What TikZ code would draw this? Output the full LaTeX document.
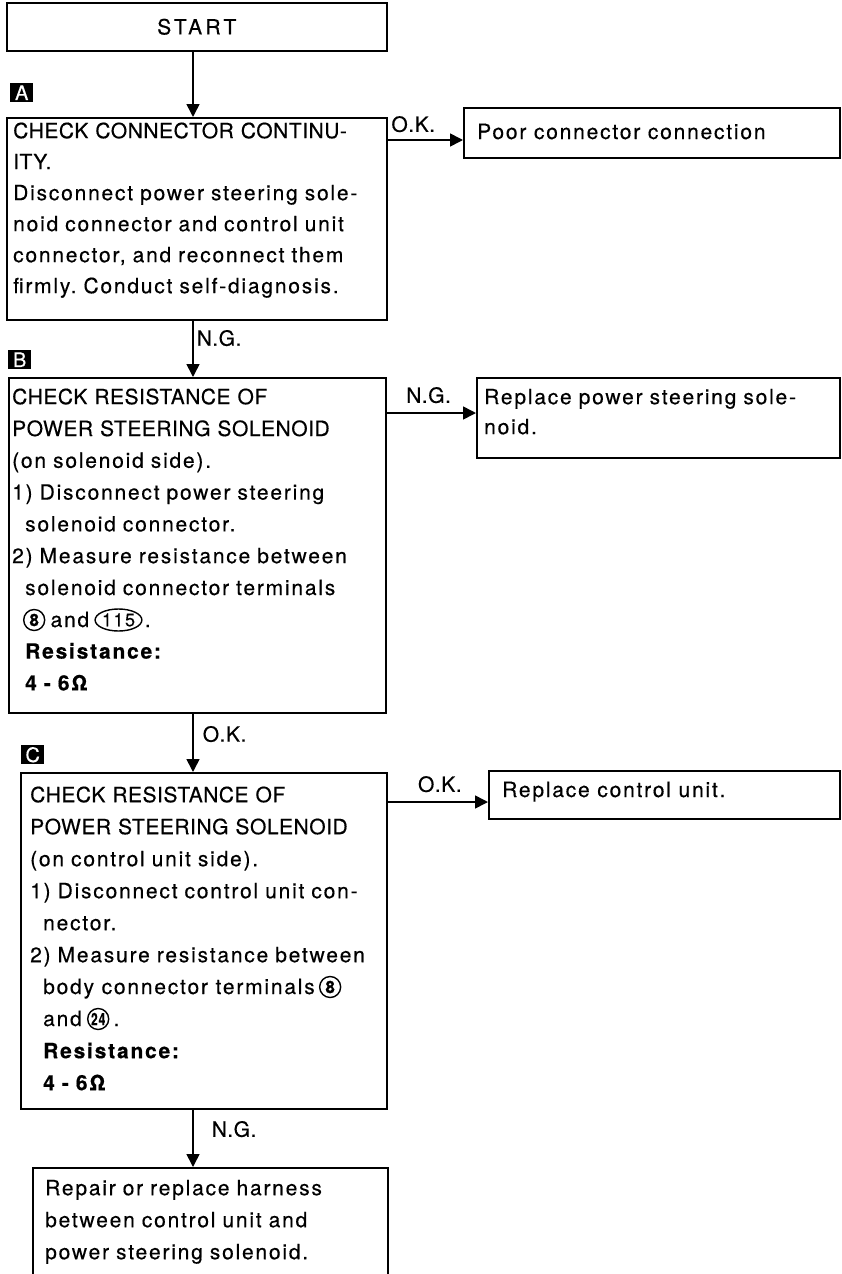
\documentclass[tikz,border=0pt]{standalone}
\usepackage{fontspec}
\setmainfont{TeX Gyre Heros}[LetterSpace=8.5,FakeBold=0.4]
\usetikzlibrary{arrows.meta,shapes.geometric}
\newcommand\firstln{\rule{0pt}{16pt}}
\newcommand\capsln[1]{{\addfontfeature{LetterSpace=2.5}#1}}
\frenchspacing
\begin{document}
\frenchspacing
\begin{tikzpicture}[x=1pt,y=-1pt,
  box/.style={draw,line width=1.6pt,rectangle,inner sep=0pt,anchor=north west},
  txt/.style={inner sep=0pt,anchor=north west,align=left,text width=400pt,font=\fontsize{21}{#1}\selectfont},
  lt/.style={inner sep=0pt,font=\fontsize{21}{24}\selectfont},
  tag/.style={fill=black,text=white,inner sep=0pt,minimum width=23pt,minimum height=19pt,anchor=north west,font=\fontsize{20}{20}\selectfont},
  arr/.style={line width=1.6pt,-{Triangle[length=13pt,width=13pt]}},
  cnum/.style={draw,circle,line width=1.4pt,inner sep=0pt,minimum size=21pt,font=\bfseries\fontsize{17}{17}\selectfont},
  enum/.style={draw,ellipse,line width=1.4pt,inner sep=0pt,minimum width=44pt,minimum height=22pt,font=\fontsize{18}{18}\selectfont}
]
\useasboundingbox (0,0) rectangle (841,1274);
\coordinate (ax) at (193,0);
% START
\node[box,minimum width=380pt,minimum height=48pt,font=\fontsize{21}{24}\selectfont\addfontfeature{LetterSpace=16}] (start) at (6,2) {START};
% A
\node[tag] (tA) at (10,83) {A};
\node[box,minimum width=380pt,minimum height=202pt] (A) at (6,117) {};
\node[txt=31pt] (At) at (13,122) {\firstln\capsln{CHECK CONNECTOR CONTINU-}\\\capsln{ITY.}\\Disconnect power steering sole-\\noid connector and control unit\\connector, and reconnect them\\firmly. Conduct self-diagnosis.};
\draw[arr] (start.south -| ax) -- (A.north -| ax);
\node[box,minimum width=376pt,minimum height=50pt] (P) at (463,107) {};
\node[lt,anchor=base west] (Pt) at (477,139) {Poor connector connection};
\coordinate (aok) at ([yshift=-23pt]A.north east);
\draw[arr] (aok) -- (aok -| P.west) node[pos=0.34,above=7pt,lt] {\capsln{O.K.}};
% B
\node[tag] (tB) at (8,350) {B};
\node[box,minimum width=377pt,minimum height=335pt] (B) at (8,377) {};
\draw[arr] (A.south -| ax) -- (B.north -| ax) node[pos=0.31,right=3pt,lt] {\capsln{N.G.}};
\node[txt=31.8pt] (Bt) at (12,388) {\firstln\capsln{CHECK RESISTANCE OF}\\\capsln{POWER STEERING SOLENOID}\\(on solenoid side).\\1) Disconnect power steering\\\hspace*{13pt}solenoid connector.\\2) Measure resistance between\\\hspace*{13pt}solenoid connector terminals\\\mbox{}\\\hspace*{13pt}\textbf{Resistance:}\\\hspace*{13pt}\textbf{4 - 6Ω}};
\coordinate (b8) at (23,627);
\node[cnum,anchor=west] (c8) at ([yshift=7pt]b8) {8};
\node[lt,anchor=base west,xshift=5pt] (and1) at (c8.east |- b8) {and};
\node[enum,anchor=west,xshift=5pt] (c115) at (and1.east |- c8) {115};
\node[lt,anchor=base west,xshift=2pt] (dot1) at (c115.east |- b8) {.};
\node[box,minimum width=363pt,minimum height=80pt] (R1) at (476,377) {};
\node[txt=30pt] (R1t) at (484,388) {\firstln Replace power steering sole-\\noid.};
\coordinate (bng) at ([yshift=-36pt]B.north east);
\draw[arr] (bng) -- (bng -| R1.west) node[pos=0.47,above=9pt,lt] {\capsln{N.G.}};
% C
\node[tag] (tC) at (21,745) {C};
\node[box,minimum width=366pt,minimum height=336pt] (C) at (20,772) {};
\draw[arr] (B.south -| ax) -- (C.north -| ax) node[pos=0.35,right=9pt,lt] {\capsln{O.K.}};
\node[txt=32pt] (Ct) at (30,786) {\firstln\capsln{CHECK RESISTANCE OF}\\\capsln{POWER STEERING SOLENOID}\\(on control unit side).\\1) Disconnect control unit con-\\\hspace*{13pt}nector.\\2) Measure resistance between\\\mbox{}\\\mbox{}\\\hspace*{13pt}\textbf{Resistance:}\\\hspace*{13pt}\textbf{4 - 6Ω}};
\coordinate (c7) at (43,994);
\node[lt,anchor=base west] (c7t) at (c7) {body connector terminals};
\node[cnum,anchor=west,xshift=4pt] (c8b) at ([yshift=7pt]c7t.base east) {8};
\coordinate (c8l) at (43,1026);
\node[lt,anchor=base west] (c8t) at (c8l) {and};
\node[cnum,anchor=west,xshift=5pt] (c24) at ([yshift=7pt]c8t.base east) {\scalebox{0.7}[1]{24}};
\node[lt,anchor=base west,xshift=4pt] (dot2) at (c24.east |- c8l) {.};
\node[box,minimum width=351pt,minimum height=48pt] (R2) at (488,770) {};
\node[lt,anchor=base west] (R2t) at (502,797) {Replace control unit.};
\coordinate (cok) at ([yshift=-30pt]C.north east);
\draw[arr] (cok) -- (cok -| R2.west) node[pos=0.52,above=9pt,lt] {\capsln{O.K.}};
% D
\node[box,minimum width=355pt,minimum height=140pt] (D) at (32,1167) {};
\draw[arr] (C.south -| ax) -- (D.north -| ax) node[pos=0.34,right=18pt,lt] {\capsln{N.G.}};
\node[txt=32pt] (Dt) at (45,1179) {\firstln Repair or replace harness\\between control unit and\\power steering solenoid.};
\end{tikzpicture}
\end{document}
